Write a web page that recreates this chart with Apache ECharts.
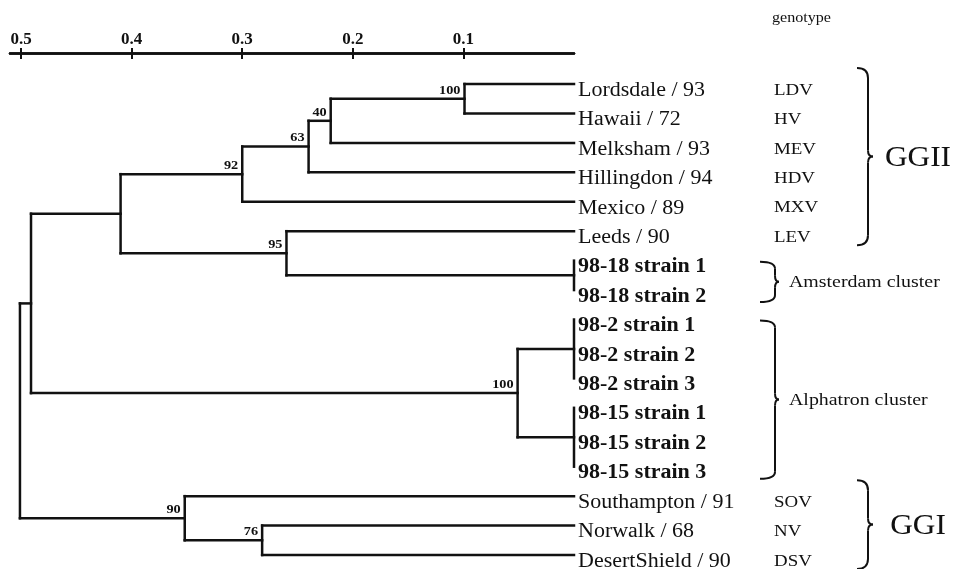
<!DOCTYPE html>
<html>
<head>
<meta charset="utf-8">
<script src="https://cdn.jsdelivr.net/npm/echarts@6/dist/echarts.min.js"></script>
<style>
html, body { margin: 0; padding: 0; background: #fff; }
#main { width: 953px; height: 569px; }
</style>
</head>
<body>
<div id="main"></div>
<script>
// leaves, top to bottom
var leafNames = ['Lordsdale / 93', 'Hawaii / 72', 'Melksham / 93', 'Hillingdon / 94', 'Mexico / 89', 'Leeds / 90',
    '98-18 strain 1', '98-18 strain 2', '98-2 strain 1', '98-2 strain 2', '98-2 strain 3',
    '98-15 strain 1', '98-15 strain 2', '98-15 strain 3',
    'Southampton / 91', 'Norwalk / 68', 'DesertShield / 90'];
var leafBold = [false, false, false, false, false, false, true, true, true, true, true, true, true, true, false, false, false];
var genotypes = ['LDV', 'HV', 'MEV', 'HDV', 'MXV', 'LEV', '', '', '', '', '', '', '', '', 'SOV', 'NV', 'DSV'];

// clades: children are leaf indexes or 'c' + clade index
var cladeChildren = [
    [0, 1],          // c0
    ['c0', 2],       // c1
    ['c1', 3],       // c2
    ['c2', 4],       // c3
    [6, 7],          // c4
    [5, 'c4'],       // c5
    ['c3', 'c5'],    // c6
    [8, 9, 10],      // c7
    [11, 12, 13],    // c8
    ['c7', 'c8'],    // c9
    ['c6', 'c9'],    // c10
    [15, 16],        // c11
    [14, 'c11'],     // c12
    ['c10', 'c12']   // c13 root
];
var cladeDistance = [0.099, 0.22, 0.24, 0.30, 0, 0.26, 0.41, 0, 0, 0.051, 0.491, 0.282, 0.352, 0.501];
var cladeSupport = [100, 40, 63, 92, null, 95, null, null, null, 100, null, 76, 90, null];

var scaleTicks = [0.1, 0.2, 0.3, 0.4, 0.5];

var groupNames = ['GGII', 'Amsterdam cluster', 'Alphatron cluster', 'GGI'];
var groupFirst = [0, 6, 8, 14];
var groupLast = [5, 7, 13, 16];
var groupBig = [1, 0, 0, 1];

var serif = '"Liberation Serif", "Times New Roman", serif';

// node positions: x = distance, y = row
function nodePos(ref) {
    if (typeof ref === 'number') return [0, ref];
    var i = +ref.slice(1);
    var ch = cladeChildren[i];
    var a = nodePos(ch[0]), b = nodePos(ch[ch.length - 1]);
    return [cladeDistance[i], (a[1] + b[1]) / 2];
}

var segments = [];
var supportData = [];
cladeChildren.forEach(function (ch, i) {
    var p = nodePos('c' + i);
    var first = nodePos(ch[0]), last = nodePos(ch[ch.length - 1]);
    segments.push([p[0], first[1], p[0], last[1]]);
    ch.forEach(function (c) {
        var q = nodePos(c);
        segments.push([p[0], q[1], q[0], q[1]]);
    });
    if (cladeSupport[i] != null) supportData.push([p[0], p[1], cladeSupport[i]]);
});

var leafData = leafNames.map(function (n, i) { return [0, i]; });
var groupData = groupNames.map(function (n, i) { return [0, groupFirst[i], groupLast[i], i]; });

var chart = echarts.init(document.getElementById('main'));

function stretchText(x, y, text, font, align, sx) {
    return {
        type: 'text', x: x, y: y, scaleX: sx || 1.12,
        style: { text: text, font: font, fill: '#111', align: align || 'left', verticalAlign: 'middle' }
    };
}

var option = {
    animation: false,
    backgroundColor: '#fff',
    grid: { left: 10, width: 564, top: 53, height: 514 },
    xAxis: [
        {
            type: 'value', inverse: true, position: 'top', min: 0, max: 0.51, interval: 0.1,
            axisLine: { show: true, onZero: false, lineStyle: { color: '#111', width: 2.5 } },
            axisTick: { show: true, inside: true, length: 6, customValues: scaleTicks, lineStyle: { color: '#111', width: 2 } },
            axisLabel: { show: false },
            splitLine: { show: false }
        },
        {
            type: 'value', inverse: true, position: 'top', min: 0, max: 0.51, interval: 0.1,
            axisLine: { show: true, onZero: false, lineStyle: { color: '#111', width: 2.5 } },
            axisTick: { show: true, inside: false, length: 5, customValues: scaleTicks, lineStyle: { color: '#111', width: 2 } },
            axisLabel: {
                show: true, customValues: scaleTicks, margin: 5,
                fontFamily: serif, fontWeight: 'bold', fontSize: 17, color: '#111',
                formatter: function (v) { return v.toFixed(1); }
            },
            splitLine: { show: false }
        }
    ],
    yAxis: { type: 'value', inverse: true, min: -1.053, max: 16.407, show: false },
    graphic: [
        stretchText(772, 18, 'genotype', '14px ' + serif, 'left', 1.15)
    ],
    series: [
        {
            type: 'custom', clip: false, silent: true,
            data: segments,
            encode: { x: [0, 2], y: [1, 3] },
            renderItem: function (params, api) {
                var p1 = api.coord([api.value(0), api.value(1)]);
                var p2 = api.coord([api.value(2), api.value(3)]);
                return {
                    type: 'line',
                    shape: { x1: p1[0], y1: p1[1], x2: p2[0], y2: p2[1] },
                    style: { stroke: '#111', lineWidth: 2.5, lineCap: 'square' }
                };
            }
        },
        {
            type: 'custom', clip: false, silent: true,
            data: supportData,
            encode: { x: 0, y: 1 },
            renderItem: function (params, api) {
                var p = api.coord([api.value(0), api.value(1)]);
                return stretchText(p[0] - 4, p[1] - 8.5, String(api.value(2)), 'bold 13px ' + serif, 'right', 1.1);
            }
        },
        {
            type: 'custom', clip: false, silent: true,
            data: leafData,
            encode: { x: 0, y: 1 },
            renderItem: function (params, api) {
                var i = params.dataIndex;
                var p = api.coord([api.value(0), api.value(1)]);
                var font = (leafBold[i] ? 'bold ' : '') + '20px ' + serif;
                var kids = [stretchText(p[0] + 4, p[1] + 6.5, leafNames[i], font, 'left', 1.1)];
                if (genotypes[i]) kids.push(stretchText(p[0] + 200, p[1] + 6.5, genotypes[i], '16px ' + serif, 'left', 1.18));
                return { type: 'group', children: kids };
            }
        },
        {
            type: 'custom', clip: false, silent: true,
            data: groupData,
            encode: { x: 0, y: [1, 2] },
            renderItem: function (params, api) {
                var i = api.value(3);
                var pa = api.coord([0, api.value(1)]);
                var pb = api.coord([0, api.value(2)]);
                var big = groupBig[i] === 1;
                var lx = pa[0] + (big ? 294 : 201);
                var hx = lx - (big ? 11 : 15);
                var tx = lx + (big ? 5 : 4);
                var top = big ? pa[1] - 16 : pa[1] + 1;
                var bot = big ? pb[1] + 14 : pb[1] + 12;
                var mid = (top + bot) / 2;
                var r = big ? 10 : 7, r2 = 6;
                var st = { stroke: '#111', lineWidth: 2, fill: null };
                var kids = [
                    { type: 'bezierCurve', shape: { x1: hx, y1: top, x2: lx, y2: top + r, cpx1: lx, cpy1: top }, style: st },
                    { type: 'line', shape: { x1: lx, y1: top + r, x2: lx, y2: mid - r2 }, style: st },
                    { type: 'bezierCurve', shape: { x1: lx, y1: mid - r2, x2: tx, y2: mid, cpx1: lx, cpy1: mid }, style: st },
                    { type: 'bezierCurve', shape: { x1: tx, y1: mid, x2: lx, y2: mid + r2, cpx1: lx, cpy1: mid }, style: st },
                    { type: 'line', shape: { x1: lx, y1: mid + r2, x2: lx, y2: bot - r }, style: st },
                    { type: 'bezierCurve', shape: { x1: lx, y1: bot - r, x2: hx, y2: bot, cpx1: lx, cpy1: bot }, style: st }
                ];
                if (big) {
                    kids.push(stretchText(lx + 50, mid + 2, groupNames[i], '29px ' + serif, 'center', 1.08));
                } else {
                    kids.push(stretchText(lx + 14, mid + 1, groupNames[i], '17px ' + serif, 'left', 1.17));
                }
                return { type: 'group', children: kids };
            }
        }
    ]
};
chart.setOption(option);
</script>
</body>
</html>
